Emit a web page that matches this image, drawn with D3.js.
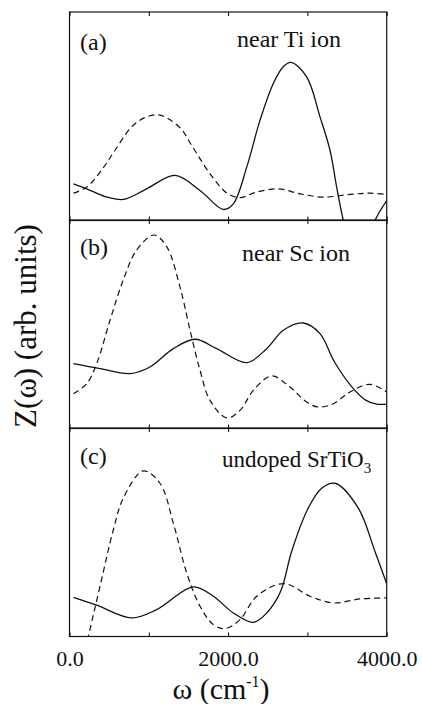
<!DOCTYPE html>
<html>
<head>
<meta charset="utf-8">
<script src="https://cdn.jsdelivr.net/npm/d3@7"></script>
<style>
  body { margin: 0; background: #fff; }
  svg text { font-family: "Liberation Serif", "Times New Roman", serif; }
</style>
</head>
<body>
<svg id="viz" width="422" height="704"></svg>
<script>
// values: [omega (cm^-1), Z (arb. units, 0 = panel bottom, 1 = panel top)]
const tiSolid = [[50,0.176],[217,0.152],[450,0.115],[678,0.101],[973,0.152],[1330,0.216],[1646,0.144],
  [1940,0.053],[2066,0.08],[2235,0.256],[2402,0.48],[2570,0.657],[2696,0.737],[2793,0.758],[2991,0.689],
  [3159,0.497],[3285,0.337],[3369,0.16],[3453,0.0],[3560,-0.15],[3680,-0.2],[3780,-0.09],[3852,0.0],[4000,0.096]];
const tiDash = [[50,0.131],[217,0.16],[420,0.25],[574,0.337],[784,0.449],[960,0.495],[1141,0.505],[1393,0.445],
  [1541,0.36],[1780,0.22],[1990,0.13],[2150,0.11],[2350,0.135],[2633,0.152],[2907,0.128],[3201,0.112],
  [3537,0.125],[3789,0.131],[4000,0.125]];

const scSolid = [[50,0.311],[385,0.287],[763,0.263],[1015,0.295],[1309,0.383],[1583,0.428],[1856,0.383],
  [2235,0.316],[2487,0.383],[2696,0.471],[2948,0.506],[3159,0.455],[3340,0.32],[3560,0.2],[3740,0.135],
  [3874,0.117],[4000,0.117]];
const scDash = [[50,0.167],[217,0.215],[343,0.311],[511,0.519],[678,0.712],[847,0.856],[1066,0.928],[1226,0.872],
  [1393,0.679],[1520,0.471],[1646,0.279],[1772,0.135],[1982,0.051],[2150,0.087],[2318,0.183],[2549,0.252],
  [2780,0.199],[2990,0.127],[3137,0.103],[3327,0.119],[3537,0.175],[3789,0.212],[4000,0.175]];

const stoSolid = [[50,0.188],[343,0.15],[784,0.089],[1100,0.129],[1561,0.238],[1814,0.193],[2066,0.113],
  [2318,0.068],[2487,0.113],[2663,0.217],[2801,0.408],[3011,0.616],[3180,0.711],[3348,0.735],[3642,0.616],
  [3852,0.408],[4000,0.253]];
const stoDash = [[50,-0.3],[237,0.0],[385,0.241],[553,0.512],[679,0.664],[930,0.794],[1141,0.735],[1309,0.544],
  [1478,0.305],[1646,0.145],[1814,0.057],[1961,0.038],[2150,0.081],[2361,0.193],[2700,0.254],[3033,0.193],
  [3327,0.161],[3663,0.18],[4000,0.185]];

const panelTags = ["(a)", "(b)", "(c)"];
const panelNames = ["near Ti ion", "near Sc ion", "undoped SrTiO"];
const xTicks = [0, 1000, 2000, 3000, 4000];
const xLabels = [0, 2000, 4000];

const panels = [
  {solid: tiSolid, dash: tiDash},
  {solid: scSolid, dash: scDash},
  {solid: stoSolid, dash: stoDash}
];

const svg = d3.select("#viz");
const left = 69.5, right = 386.7;
const tops = [12, 220, 428], ph = 208.5;

const x = d3.scaleLinear().domain([0, 4000]).range([left, right]);

panels.forEach((p, i) => {
    const top = tops[i], bottom = top + ph;
    const y = d3.scaleLinear().domain([0, 1]).range([bottom, top]);
    const g = svg.append("g");

    g.append("clipPath").attr("id", "clip" + i)
      .append("rect").attr("x", left).attr("y", top).attr("width", right - left).attr("height", ph);

    const line = d3.line()
        .x(d => x(d[0])).y(d => y(d[1]))
        .curve(d3.curveCatmullRom.alpha(0.5));

    g.append("path").datum(p.dash)
      .attr("clip-path", "url(#clip" + i + ")")
      .attr("d", line).attr("fill", "none")
      .attr("stroke", "#111").attr("stroke-width", 1.2)
      .attr("stroke-dasharray", "6,4");

    g.append("path").datum(p.solid)
      .attr("clip-path", "url(#clip" + i + ")")
      .attr("d", line).attr("fill", "none")
      .attr("stroke", "#111").attr("stroke-width", 1.3);

    // inward ticks top and bottom
    g.append("g").attr("transform", `translate(0,${bottom})`)
      .call(d3.axisBottom(x).tickValues(xTicks).tickSize(-4).tickFormat(""))
      .call(a => a.select(".domain").remove());
    g.append("g").attr("transform", `translate(0,${top})`)
      .call(d3.axisTop(x).tickValues(xTicks).tickSize(-4).tickFormat(""))
      .call(a => a.select(".domain").remove());

    g.append("rect").attr("x", left).attr("y", top).attr("width", right - left).attr("height", ph)
      .attr("fill", "none").attr("stroke", "#111").attr("stroke-width", 1.2);

    g.append("text").attr("x", 80).attr("y", top + [38, 35, 36][i])
      .attr("font-size", 24).attr("fill", "#111").text(panelTags[i]);

    const t = g.append("text").attr("x", [237, 242, 222][i]).attr("y", top + [35, 41, 39][i])
      .attr("font-size", [24, 24, 23][i]).attr("fill", "#111").text(panelNames[i]);
    if (i === 2) t.append("tspan").attr("font-size", 15).attr("dy", 6).text("3");
});

// bottom tick labels
svg.append("g").attr("transform", `translate(0,${tops[2] + ph})`)
  .call(d3.axisBottom(x).tickValues(xLabels).tickSize(0).tickPadding(14).tickFormat(d3.format(".1f")))
  .call(a => a.select(".domain").remove())
  .call(a => a.selectAll("text").attr("font-size", 22).attr("fill", "#111"));

// axis titles
const xt = svg.append("text").attr("x", 221).attr("y", 699).attr("text-anchor", "middle")
  .attr("font-size", 30).attr("fill", "#111");
xt.append("tspan").text("ω (cm");
xt.append("tspan").attr("font-size", 16).attr("dy", -12).text("-1");
xt.append("tspan").attr("dy", 12).text(")");

svg.append("text").attr("transform", "translate(36,326) rotate(-90)")
  .attr("text-anchor", "middle").attr("font-size", 31).attr("fill", "#111")
  .text("Z(ω) (arb. units)");
</script>
</body>
</html>
